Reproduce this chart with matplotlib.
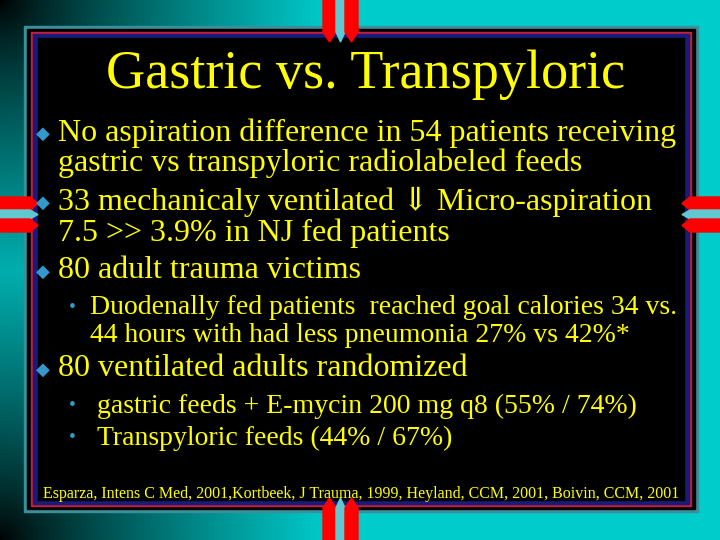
import numpy as np
import matplotlib.pyplot as plt
from matplotlib.patches import Rectangle, Polygon

plt.rcParams['font.family'] = ['Liberation Serif', 'DejaVu Serif']

title = "Gastric vs. Transpyloric"
main_bullets = [
    ("No aspiration difference in 54 patients receiving", 133, True),
    ("gastric vs transpyloric radiolabeled feeds", 163, False),
    ("33 mechanicaly ventilated \u21d3 Micro-aspiration", 202, True),
    ("7.5 >> 3.9% in NJ fed patients", 233, False),
    ("80 adult trauma victims", 271, True),
    ("80 ventilated adults randomized", 369, True),
]
sub_bullets = [
    ("Duodenally fed patients  reached goal calories 34 vs.", 307, True, 90),
    ("44 hours with had less pneumonia 27% vs 42%*", 335, False, 90),
    ("gastric feeds + E-mycin 200 mg q8 (55% / 74%)", 406, True, 97),
    ("Transpyloric feeds (44% / 67%)", 438, True, 97),
]
footer = "Esparza, Intens C Med, 2001,Kortbeek, J Trauma, 1999, Heyland, CCM, 2001, Boivin, CCM, 2001"

fig = plt.figure(figsize=(7.2, 5.4), dpi=100)
ax = fig.add_axes([0, 0, 1, 1])
ax.set_xlim(0, 720)
ax.set_ylim(540, 0)
ax.axis('off')

# teal background, dark toward the left corners
yy, xx = np.mgrid[0:540, 0:720]
d = np.minimum(np.hypot(xx, yy), np.hypot(xx, 540 - yy))
t = np.clip(d / 330, 0, 1) ** 0.8
bg = np.zeros((540, 720, 3))
bg[..., 1] = 0.8 * t
bg[..., 2] = 0.8 * t
ax.imshow(bg, extent=(0, 720, 540, 0), zorder=0)

# panel
ax.add_patch(Rectangle((24, 26), 674, 486, color='#3a8f9a', zorder=1))
ax.add_patch(Rectangle((27, 29), 668, 480, color='black', zorder=1))
ax.add_patch(Rectangle((31, 32), 660, 474, color='#c0203a', zorder=1))
ax.add_patch(Rectangle((33, 34), 656, 470, color='#1a1a7a', zorder=1))
ax.add_patch(Rectangle((38, 38), 646, 462, color='black', zorder=1))

# ribbons
def vribbon(x0, y0, y1, tip):
    for i, (c, w) in enumerate([('red', 13), ('#5fc8d0', 9), ('red', 13)]):
        xs = x0 + [0, 13, 22][i]
        ax.add_patch(Polygon([(xs, y0), (xs + w, y0), (xs + w, y1), (xs + w / 2, y1 + tip), (xs, y1)],
                             color=c, zorder=2))

def hribbon(y0, x0, x1, tip):
    for i, (c, h) in enumerate([('red', 13), ('#5fc8d0', 9), ('red', 13)]):
        ys = y0 + [0, 13, 22][i]
        ax.add_patch(Polygon([(x0, ys), (x0, ys + h), (x1, ys + h), (x1 + tip, ys + h / 2), (x1, ys)],
                             color=c, zorder=2))

vribbon(323, 0, 32, 10)
vribbon(323, 540, 508, -10)
hribbon(197, 0, 30, 8)
hribbon(197, 720, 690, -8)

ax.text(366, 75, title, color='yellow', fontsize=39, ha='center', va='center', zorder=3)

for txt, y, bullet in main_bullets:
    ax.text(58, y, txt, color='yellow', fontsize=23, va='center', zorder=3)
    if bullet:
        ax.text(43, y + 1, '\u25c6', color='#3399cc', fontsize=13, va='center', ha='center',
                family='DejaVu Sans', zorder=3)

for txt, y, bullet, x in sub_bullets:
    ax.text(x, y, txt, color='yellow', fontsize=20, va='center', zorder=3)
    if bullet:
        ax.text(72, y, '\u2022', color='#3399cc', fontsize=14, va='center', ha='center', zorder=3)

ax.text(361, 494, footer, color='yellow', fontsize=11.5, ha='center', va='center', zorder=3)

fig.savefig('out.png', dpi=100)
